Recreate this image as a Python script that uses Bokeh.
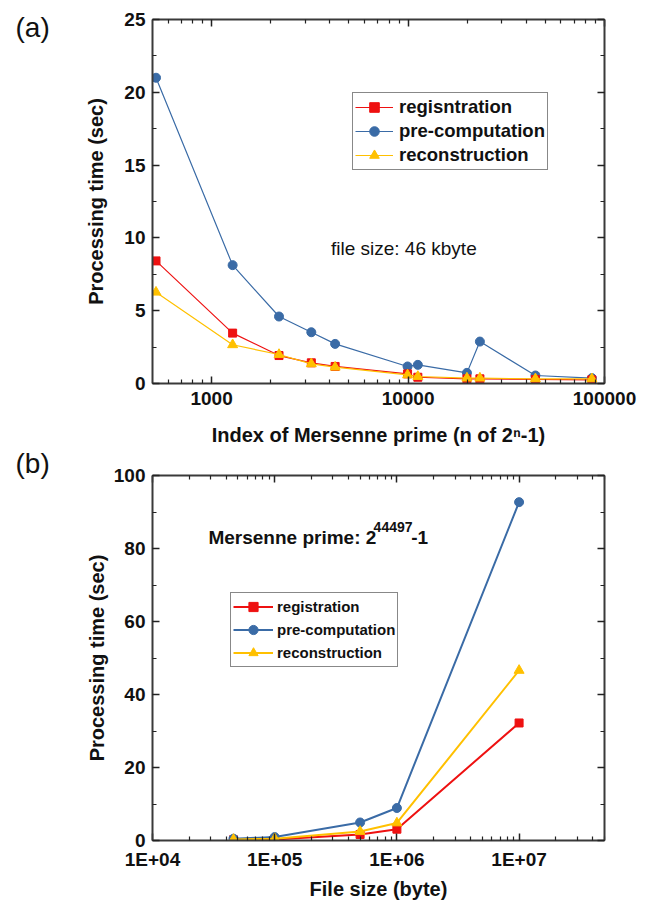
from bokeh.plotting import figure
from bokeh.models import (Range1d, LogAxis, LinearAxis, SingleIntervalTicker, FixedTicker,
                          CustomJSTickFormatter, Legend, LegendItem, Label)
from bokeh.layouts import column, row
from bokeh.embed import file_html
from bokeh.resources import INLINE

# ---------------- data (a) ----------------
mersenne_n = [521, 1279, 2203, 3217, 4253, 9941, 11213, 19937, 23209, 44497, 86243]
reg_a = [8.42, 3.46, 1.92, 1.42, 1.17, 0.66, 0.43, 0.32, 0.32, 0.28, 0.25]
pre_a = [21.0, 8.13, 4.60, 3.52, 2.72, 1.17, 1.28, 0.73, 2.88, 0.55, 0.37]
rec_a = [6.27, 2.66, 1.99, 1.35, 1.12, 0.59, 0.48, 0.37, 0.37, 0.32, 0.32]

# ---------------- data (b) ----------------
file_size = [46000, 100000, 500000, 1000000, 10000000]
reg_b = [0.2, 0.3, 1.65, 3.1, 32.2]
pre_b = [0.5, 0.93, 4.94, 8.9, 92.7]
rec_b = [0.3, 0.5, 2.47, 4.8, 46.6]

# ---------------- ticks ----------------
xticks_a = [1000, 10000, 100000]
xminor_a = [m * 100 for m in range(6, 10)] + [m * 1000 for m in range(2, 10)] + [m * 10000 for m in range(2, 10)]
xticks_b = [1e4, 1e5, 1e6, 1e7]
xminor_b = [m * 10 ** e for e in range(4, 8) for m in range(2, 10) if m * 10 ** e <= 5e7]

RED = "#ee1111"
BLUE = "#3a6ba6"
YEL = "#ffc000"
FONT = "Liberation Sans"
AXC = "#3a3a3a"
TXT = "#111111"

H_A = 452
H_B = 450
TAG_W = 50


def style_axis(ax, labels=True):
    ax.axis_line_color = AXC
    ax.axis_line_width = 2
    ax.major_tick_line_color = "#222222"
    ax.major_tick_line_width = 1.5
    ax.minor_tick_line_color = "#222222"
    ax.minor_tick_line_width = 1.2
    ax.major_tick_in = 7
    ax.major_tick_out = 0
    ax.minor_tick_in = 4
    ax.minor_tick_out = 0
    ax.major_label_text_font = FONT
    ax.major_label_text_font_style = "bold"
    ax.major_label_text_color = TXT
    if labels:
        ax.major_label_text_font_size = "19px"
    else:
        ax.major_label_text_font_size = "2px"
        ax.major_label_text_alpha = 0
        ax.major_label_standoff = 0


def base_fig(h, xr, yr, border_top, border_bottom):
    p = figure(width=651 - TAG_W, height=h, x_axis_type="log", x_range=xr, y_range=yr,
               output_backend="svg", toolbar_location=None, title_location=None,
               min_border_left=152 - TAG_W, min_border_right=651 - 604,
               min_border_top=border_top, min_border_bottom=border_bottom)
    p.xgrid.visible = False
    p.ygrid.visible = False
    p.outline_line_color = None
    p.background_fill_color = "white"
    p.border_fill_color = "white"
    return p


def tag_fig(h, tags):
    # one narrow panel on the left carrying the panel letters
    t = figure(width=TAG_W, height=h, x_range=Range1d(0, TAG_W), y_range=Range1d(0, h),
               output_backend="svg", toolbar_location=None, min_border=0, title_location=None,
               x_axis_location=None, y_axis_location=None)
    t.xgrid.visible = False
    t.ygrid.visible = False
    t.outline_line_color = None
    for text, ty in tags:
        t.add_layout(Label(x=15, y=h - ty, text=text, text_font=FONT, text_font_size="28px",
                           text_baseline="middle", text_align="left", text_color=TXT))
    return t


def axis_title(ax, text, standoff):
    ax.axis_label = text
    ax.axis_label_text_font = FONT
    ax.axis_label_text_font_style = "bold"
    ax.axis_label_text_font_size = "20px"
    ax.axis_label_text_color = TXT
    ax.axis_label_standoff = standoff


# ================= figure (a) =================
pa = base_fig(H_A, Range1d(500, 100000), Range1d(0, 25), 19, H_A - 383)
tick_a = FixedTicker(ticks=xticks_a, minor_ticks=xminor_a)
ytick_a = SingleIntervalTicker(interval=5, num_minor_ticks=2)
pa.xaxis[0].ticker = tick_a
pa.xaxis[0].formatter = CustomJSTickFormatter(code="return tick.toFixed(0);")
pa.xaxis[0].major_label_standoff = 8
pa.yaxis[0].ticker = ytick_a
pa.yaxis[0].major_label_standoff = 7
axis_title(pa.xaxis[0], "Index of Mersenne prime (n of 2\u207f-1)", 16)
axis_title(pa.yaxis[0], "Processing time (sec)", 14)
style_axis(pa.xaxis[0])
style_axis(pa.yaxis[0])
top_a = LogAxis(ticker=tick_a)
right_a = LinearAxis(ticker=ytick_a)
style_axis(top_a, labels=False)
style_axis(right_a, labels=False)
pa.add_layout(top_a, "above")
pa.add_layout(right_a, "right")

al2 = pa.line(mersenne_n, pre_a, line_color=BLUE, line_width=1.2)
am2 = pa.scatter(mersenne_n, pre_a, marker="circle", size=9, fill_color=BLUE, line_color=BLUE)
al1 = pa.line(mersenne_n, reg_a, line_color=RED, line_width=1.2)
am1 = pa.scatter(mersenne_n, reg_a, marker="square", size=8, fill_color=RED, line_color=RED)
al3 = pa.line(mersenne_n, rec_a, line_color=YEL, line_width=1.2)
am3 = pa.scatter(mersenne_n, rec_a, marker="triangle", size=10, fill_color=YEL, line_color=YEL)

leg_a = Legend(items=[LegendItem(label="regisntration", renderers=[al1, am1]),
                      LegendItem(label="pre-computation", renderers=[al2, am2]),
                      LegendItem(label="reconstruction", renderers=[al3, am3])],
               location=(200, 213), orientation="vertical",
               label_text_font=FONT, label_text_font_style="bold", label_text_font_size="18.5px",
               label_text_color=TXT,
               glyph_width=38, glyph_height=24, label_height=24, label_standoff=6,
               padding=2, spacing=0, margin=0,
               border_line_color=TXT, border_line_width=1.3,
               background_fill_color="white", background_fill_alpha=1)
pa.add_layout(leg_a, "center")

pa.add_layout(Label(x=4050, y=9.27, text="file size: 46 kbyte", text_font=FONT,
                    text_font_size="19px", text_baseline="middle", text_align="left",
                    text_color=TXT))

# ================= figure (b) =================
pb = base_fig(H_B, Range1d(1e4, 5e7), Range1d(0, 100), 475 - H_A, H_A + H_B - 840)
tick_b = FixedTicker(ticks=xticks_b, minor_ticks=xminor_b)
ytick_b = SingleIntervalTicker(interval=20, num_minor_ticks=2)
pb.xaxis[0].ticker = tick_b
pb.xaxis[0].formatter = CustomJSTickFormatter(
    code="const e = Math.round(Math.log10(tick)); return '1E+' + (e < 10 ? '0' + e : '' + e);")
pb.xaxis[0].major_label_standoff = 8
pb.yaxis[0].ticker = ytick_b
pb.yaxis[0].major_label_standoff = 7
axis_title(pb.xaxis[0], "File size (byte)", 5)
axis_title(pb.yaxis[0], "Processing time (sec)", 3)
style_axis(pb.xaxis[0])
style_axis(pb.yaxis[0])
top_b = LogAxis(ticker=tick_b)
right_b = LinearAxis(ticker=ytick_b)
style_axis(top_b, labels=False)
style_axis(right_b, labels=False)
pb.add_layout(top_b, "above")
pb.add_layout(right_b, "right")

bl1 = pb.line(file_size, reg_b, line_color=RED, line_width=2)
bm1 = pb.scatter(file_size, reg_b, marker="square", size=8, fill_color=RED, line_color=RED)
bl2 = pb.line(file_size, pre_b, line_color=BLUE, line_width=2)
bm2 = pb.scatter(file_size, pre_b, marker="circle", size=9, fill_color=BLUE, line_color=BLUE)
bl3 = pb.line(file_size, rec_b, line_color=YEL, line_width=2)
bm3 = pb.scatter(file_size, rec_b, marker="triangle", size=10, fill_color=YEL, line_color=YEL)

leg_b = Legend(items=[LegendItem(label="registration", renderers=[bl1, bm1]),
                      LegendItem(label="pre-computation", renderers=[bl2, bm2]),
                      LegendItem(label="reconstruction", renderers=[bl3, bm3])],
               location=(78, 173), orientation="vertical",
               label_text_font=FONT, label_text_font_style="bold", label_text_font_size="15px",
               label_text_color=TXT,
               glyph_width=40, glyph_height=23, label_height=23, label_standoff=4,
               padding=2, spacing=0, margin=0,
               border_line_color=TXT, border_line_width=1.3,
               background_fill_color="white", background_fill_alpha=1)
pb.add_layout(leg_b, "center")

pb.add_layout(Label(x=2.87e4, y=83.0, text="Mersenne prime: 2", text_font=FONT,
                    text_font_style="bold", text_font_size="19px", text_align="left",
                    text_baseline="middle", text_color=TXT))
pb.add_layout(Label(x=6.45e5, y=86.0, text="44497", text_font=FONT,
                    text_font_style="bold", text_font_size="14px", text_align="left",
                    text_baseline="middle", text_color=TXT))
pb.add_layout(Label(x=1.31e6, y=83.0, text="-1", text_font=FONT,
                    text_font_style="bold", text_font_size="19px", text_align="left",
                    text_baseline="middle", text_color=TXT))

tags = tag_fig(H_A + H_B, [("(a)", 27), ("(b)", 463)])
layout = row(tags, column(pa, pb))
open("out.html", "w").write(file_html(layout, INLINE))
